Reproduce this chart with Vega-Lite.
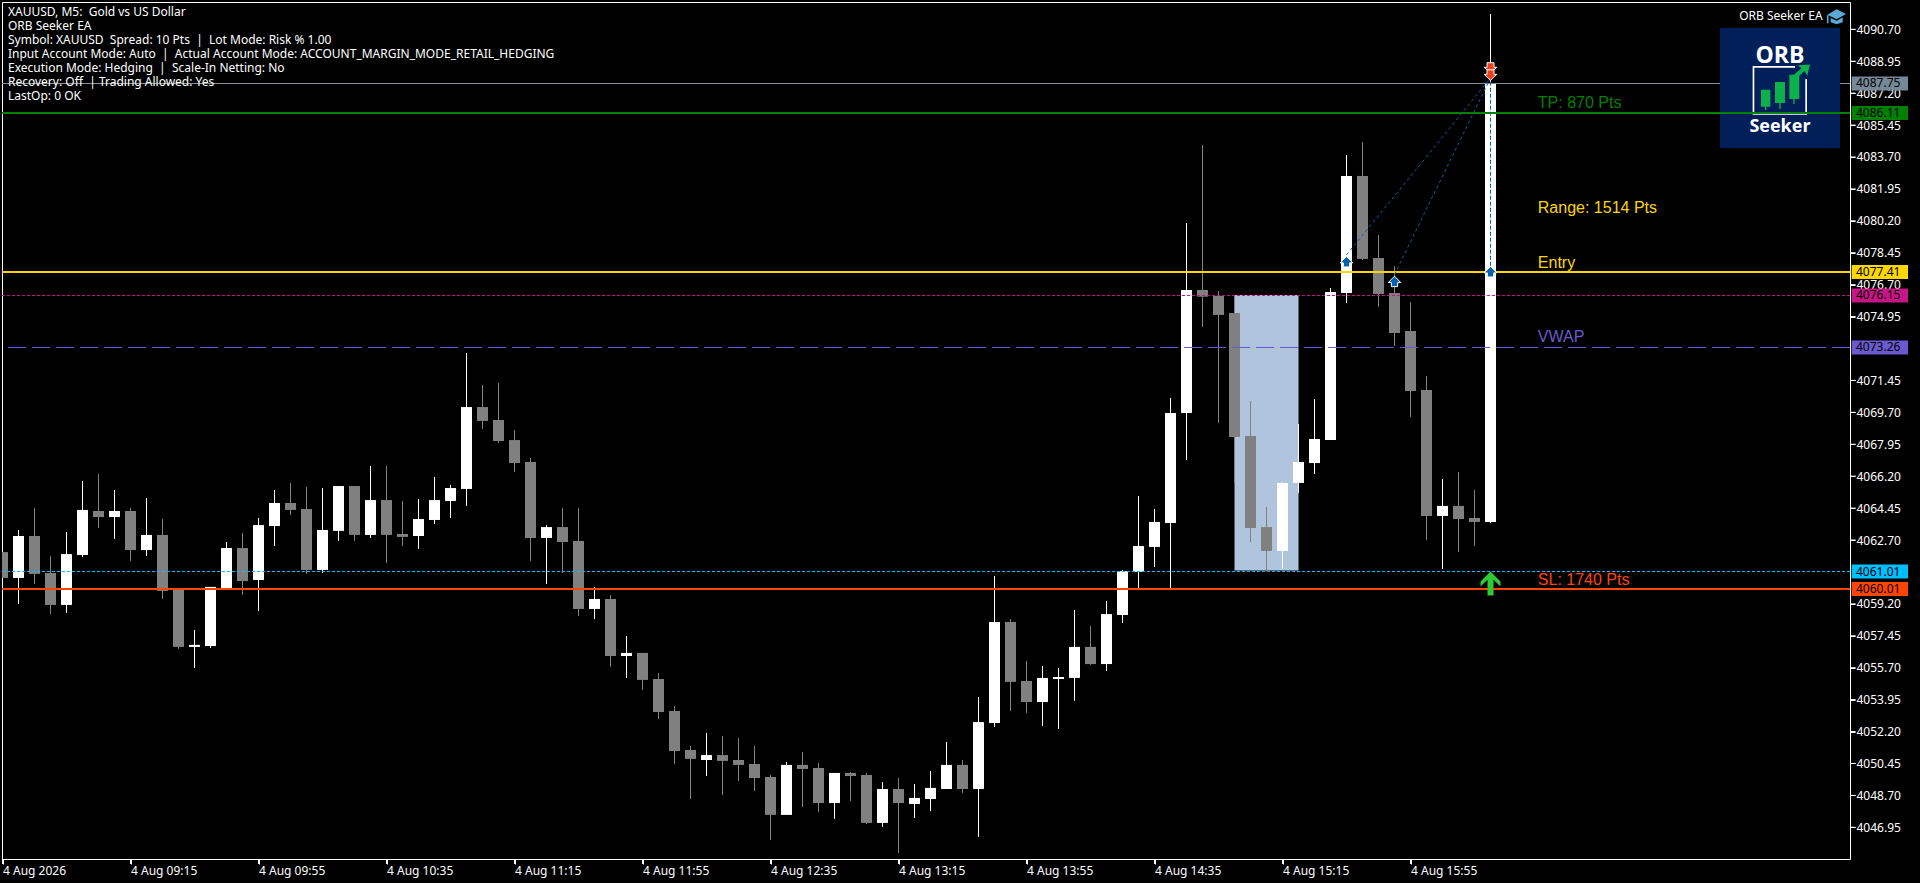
{"$schema":"https://vega.github.io/schema/vega-lite/v6.json","width":1848,"height":857,"autosize":{"type":"none"},"padding":{"left":2,"top":2,"right":70,"bottom":24},"background":"#000000","config":{"view":{"stroke":"#ffffff","strokeWidth":1},"axis":{"grid":false,"domain":false,"ticks":true,"tickColor":"#ffffff","tickOpacity":1,"tickSize":5,"tickWidth":1,"labelColor":"#ffffff","labelFont":"Noto Sans","labelFontSize":12,"labelPadding":1,"labelOverlap":false,"labelBound":false,"labelFlush":false}},
"datasets":{
"yticks":[{"p":4090.7},{"p":4088.95},{"p":4087.2},{"p":4085.45},{"p":4083.7},{"p":4081.95},{"p":4080.2},{"p":4078.45},{"p":4076.7},{"p":4074.95},{"p":4071.45},{"p":4069.7},{"p":4067.95},{"p":4066.2},{"p":4064.45},{"p":4062.7},{"p":4059.2},{"p":4057.45},{"p":4055.7},{"p":4053.95},{"p":4052.2},{"p":4050.45},{"p":4048.7},{"p":4046.95}],
"xticks":[{"t":"2026-08-04T08:35:00"},{"t":"2026-08-04T09:15:00"},{"t":"2026-08-04T09:55:00"},{"t":"2026-08-04T10:35:00"},{"t":"2026-08-04T11:15:00"},{"t":"2026-08-04T11:55:00"},{"t":"2026-08-04T12:35:00"},{"t":"2026-08-04T13:15:00"},{"t":"2026-08-04T13:55:00"},{"t":"2026-08-04T14:35:00"},{"t":"2026-08-04T15:15:00"},{"t":"2026-08-04T15:55:00"}],
"candles":[
{"t":"2026-08-04T08:35:00","o":4062.04,"h":4062.04,"l":4060.62,"c":4060.62},
{"t":"2026-08-04T08:40:00","o":4060.62,"h":4063.25,"l":4059.19,"c":4062.92},
{"t":"2026-08-04T08:45:00","o":4062.92,"h":4064.46,"l":4060.29,"c":4060.84},
{"t":"2026-08-04T08:50:00","o":4060.89,"h":4061.82,"l":4058.64,"c":4059.14},
{"t":"2026-08-04T08:55:00","o":4059.14,"h":4063.14,"l":4058.70,"c":4061.93},
{"t":"2026-08-04T09:00:00","o":4061.88,"h":4065.94,"l":4061.77,"c":4064.35},
{"t":"2026-08-04T09:05:00","o":4064.29,"h":4066.32,"l":4063.36,"c":4063.96},
{"t":"2026-08-04T09:10:00","o":4063.96,"h":4065.44,"l":4062.76,"c":4064.29},
{"t":"2026-08-04T09:15:00","o":4064.29,"h":4064.46,"l":4061.55,"c":4062.15},
{"t":"2026-08-04T09:20:00","o":4062.15,"h":4065.00,"l":4061.82,"c":4062.98},
{"t":"2026-08-04T09:25:00","o":4062.98,"h":4063.85,"l":4059.47,"c":4059.91},
{"t":"2026-08-04T09:30:00","o":4060.02,"h":4060.02,"l":4056.73,"c":4056.84},
{"t":"2026-08-04T09:35:00","o":4056.84,"h":4057.77,"l":4055.68,"c":4056.95},
{"t":"2026-08-04T09:40:00","o":4056.89,"h":4060.13,"l":4056.78,"c":4060.13},
{"t":"2026-08-04T09:45:00","o":4060.02,"h":4062.59,"l":4060.02,"c":4062.26},
{"t":"2026-08-04T09:50:00","o":4062.26,"h":4063.09,"l":4059.69,"c":4060.45},
{"t":"2026-08-04T09:55:00","o":4060.51,"h":4063.91,"l":4058.81,"c":4063.52},
{"t":"2026-08-04T10:00:00","o":4063.47,"h":4065.44,"l":4062.37,"c":4064.73},
{"t":"2026-08-04T10:05:00","o":4064.73,"h":4065.83,"l":4064.07,"c":4064.35},
{"t":"2026-08-04T10:10:00","o":4064.40,"h":4065.61,"l":4060.84,"c":4061.06},
{"t":"2026-08-04T10:15:00","o":4061.06,"h":4065.55,"l":4060.89,"c":4063.25},
{"t":"2026-08-04T10:20:00","o":4063.20,"h":4065.66,"l":4062.65,"c":4065.66},
{"t":"2026-08-04T10:25:00","o":4065.66,"h":4065.66,"l":4062.65,"c":4062.98},
{"t":"2026-08-04T10:30:00","o":4062.98,"h":4066.76,"l":4062.81,"c":4064.89},
{"t":"2026-08-04T10:35:00","o":4064.89,"h":4066.76,"l":4061.44,"c":4062.98},
{"t":"2026-08-04T10:40:00","o":4063.03,"h":4064.84,"l":4062.37,"c":4062.87},
{"t":"2026-08-04T10:45:00","o":4062.92,"h":4064.95,"l":4062.21,"c":4063.85},
{"t":"2026-08-04T10:50:00","o":4063.80,"h":4066.16,"l":4063.58,"c":4064.89},
{"t":"2026-08-04T10:55:00","o":4064.84,"h":4065.72,"l":4063.91,"c":4065.55},
{"t":"2026-08-04T11:00:00","o":4065.50,"h":4072.95,"l":4064.57,"c":4069.99},
{"t":"2026-08-04T11:05:00","o":4069.99,"h":4071.20,"l":4068.79,"c":4069.23},
{"t":"2026-08-04T11:10:00","o":4069.28,"h":4071.31,"l":4068.02,"c":4068.13},
{"t":"2026-08-04T11:15:00","o":4068.18,"h":4068.73,"l":4066.43,"c":4066.92},
{"t":"2026-08-04T11:20:00","o":4066.98,"h":4067.20,"l":4061.55,"c":4062.81},
{"t":"2026-08-04T11:25:00","o":4062.81,"h":4063.52,"l":4060.29,"c":4063.41},
{"t":"2026-08-04T11:30:00","o":4063.41,"h":4064.46,"l":4060.89,"c":4062.59},
{"t":"2026-08-04T11:35:00","o":4062.65,"h":4064.46,"l":4058.54,"c":4058.92},
{"t":"2026-08-04T11:40:00","o":4058.92,"h":4060.13,"l":4058.37,"c":4059.47},
{"t":"2026-08-04T11:45:00","o":4059.47,"h":4059.69,"l":4055.74,"c":4056.34},
{"t":"2026-08-04T11:50:00","o":4056.34,"h":4057.44,"l":4055.14,"c":4056.51},
{"t":"2026-08-04T11:55:00","o":4056.51,"h":4056.51,"l":4054.48,"c":4055.03},
{"t":"2026-08-04T12:00:00","o":4055.08,"h":4055.41,"l":4052.89,"c":4053.27},
{"t":"2026-08-04T12:05:00","o":4053.33,"h":4053.60,"l":4050.42,"c":4051.13},
{"t":"2026-08-04T12:10:00","o":4051.19,"h":4051.41,"l":4048.50,"c":4050.70},
{"t":"2026-08-04T12:15:00","o":4050.64,"h":4052.12,"l":4049.76,"c":4050.91},
{"t":"2026-08-04T12:20:00","o":4050.91,"h":4051.96,"l":4048.72,"c":4050.59},
{"t":"2026-08-04T12:25:00","o":4050.64,"h":4051.85,"l":4049.49,"c":4050.37},
{"t":"2026-08-04T12:30:00","o":4050.42,"h":4051.41,"l":4048.94,"c":4049.65},
{"t":"2026-08-04T12:35:00","o":4049.71,"h":4049.82,"l":4046.25,"c":4047.63},
{"t":"2026-08-04T12:40:00","o":4047.63,"h":4050.53,"l":4047.63,"c":4050.37},
{"t":"2026-08-04T12:45:00","o":4050.37,"h":4051.08,"l":4048.06,"c":4050.15},
{"t":"2026-08-04T12:50:00","o":4050.20,"h":4050.48,"l":4047.79,"c":4048.28},
{"t":"2026-08-04T12:55:00","o":4048.28,"h":4049.93,"l":4047.41,"c":4049.93},
{"t":"2026-08-04T13:00:00","o":4049.93,"h":4049.98,"l":4048.39,"c":4049.76},
{"t":"2026-08-04T13:05:00","o":4049.82,"h":4049.93,"l":4047.13,"c":4047.19},
{"t":"2026-08-04T13:10:00","o":4047.19,"h":4049.43,"l":4046.97,"c":4049.05},
{"t":"2026-08-04T13:15:00","o":4049.05,"h":4049.65,"l":4045.54,"c":4048.28},
{"t":"2026-08-04T13:20:00","o":4048.23,"h":4049.32,"l":4047.46,"c":4048.56},
{"t":"2026-08-04T13:25:00","o":4048.50,"h":4050.04,"l":4047.84,"c":4049.11},
{"t":"2026-08-04T13:30:00","o":4049.05,"h":4051.63,"l":4049.05,"c":4050.37},
{"t":"2026-08-04T13:35:00","o":4050.37,"h":4050.64,"l":4048.83,"c":4049.05},
{"t":"2026-08-04T13:40:00","o":4049.05,"h":4054.09,"l":4046.42,"c":4052.72},
{"t":"2026-08-04T13:45:00","o":4052.67,"h":4060.73,"l":4052.45,"c":4058.21},
{"t":"2026-08-04T13:50:00","o":4058.21,"h":4058.37,"l":4053.33,"c":4054.92},
{"t":"2026-08-04T13:55:00","o":4054.97,"h":4056.07,"l":4053.22,"c":4053.82},
{"t":"2026-08-04T14:00:00","o":4053.82,"h":4055.79,"l":4052.50,"c":4055.14},
{"t":"2026-08-04T14:05:00","o":4055.08,"h":4055.68,"l":4052.34,"c":4055.19},
{"t":"2026-08-04T14:10:00","o":4055.14,"h":4058.86,"l":4053.88,"c":4056.84},
{"t":"2026-08-04T14:15:00","o":4056.84,"h":4057.99,"l":4055.85,"c":4055.90},
{"t":"2026-08-04T14:20:00","o":4055.90,"h":4059.36,"l":4055.52,"c":4058.64},
{"t":"2026-08-04T14:25:00","o":4058.59,"h":4061.06,"l":4058.15,"c":4061.00},
{"t":"2026-08-04T14:30:00","o":4060.95,"h":4065.11,"l":4060.07,"c":4062.37},
{"t":"2026-08-04T14:35:00","o":4062.32,"h":4064.40,"l":4061.22,"c":4063.69},
{"t":"2026-08-04T14:40:00","o":4063.63,"h":4070.49,"l":4060.07,"c":4069.66},
{"t":"2026-08-04T14:45:00","o":4069.66,"h":4080.08,"l":4067.09,"c":4076.41},
{"t":"2026-08-04T14:50:00","o":4076.41,"h":4084.36,"l":4074.38,"c":4076.04},
{"t":"2026-08-04T14:55:00","o":4076.08,"h":4076.35,"l":4069.12,"c":4075.04},
{"t":"2026-08-04T15:00:00","o":4075.15,"h":4076.13,"l":4065.83,"c":4068.35},
{"t":"2026-08-04T15:05:00","o":4068.40,"h":4070.32,"l":4062.59,"c":4063.36},
{"t":"2026-08-04T15:10:00","o":4063.41,"h":4064.51,"l":4061.00,"c":4062.10},
{"t":"2026-08-04T15:15:00","o":4062.10,"h":4065.88,"l":4061.11,"c":4065.83},
{"t":"2026-08-04T15:20:00","o":4065.83,"h":4069.06,"l":4065.28,"c":4066.98},
{"t":"2026-08-04T15:25:00","o":4066.92,"h":4070.43,"l":4066.32,"c":4068.24},
{"t":"2026-08-04T15:30:00","o":4068.18,"h":4076.52,"l":4068.18,"c":4076.30},
{"t":"2026-08-04T15:35:00","o":4076.24,"h":4083.81,"l":4075.69,"c":4082.66},
{"t":"2026-08-04T15:40:00","o":4082.66,"h":4084.52,"l":4078.05,"c":4078.11},
{"t":"2026-08-04T15:45:00","o":4078.16,"h":4079.42,"l":4075.48,"c":4076.19},
{"t":"2026-08-04T15:50:00","o":4076.24,"h":4077.72,"l":4073.34,"c":4074.05},
{"t":"2026-08-04T15:55:00","o":4074.16,"h":4075.75,"l":4069.44,"c":4070.87},
{"t":"2026-08-04T16:00:00","o":4070.93,"h":4071.69,"l":4062.70,"c":4064.02},
{"t":"2026-08-04T16:05:00","o":4064.02,"h":4066.05,"l":4061.11,"c":4064.57},
{"t":"2026-08-04T16:10:00","o":4064.57,"h":4066.43,"l":4062.04,"c":4063.85},
{"t":"2026-08-04T16:15:00","o":4063.91,"h":4065.44,"l":4062.37,"c":4063.69},
{"t":"2026-08-04T16:20:00","o":4063.69,"h":4091.54,"l":4063.63,"c":4087.74}
],
"levels":[
{"kind":"Last","level":4087.729,"label":"4087.75"},
{"kind":"TP","level":4086.111,"label":"4086.11"},
{"kind":"Entry","level":4077.394,"label":"4077.41"},
{"kind":"Trail","level":4076.106,"label":"4076.15"},
{"kind":"VWAP","level":4073.255,"label":"4073.26"},
{"kind":"Box","level":4060.974,"label":"4061.01"},
{"kind":"SL","level":4060.015,"label":"4060.01"}
],
"notes":[
{"t":"2026-08-04T16:34:47","p":4086.66,"kind":"TP","label":"TP: 870 Pts"},
{"t":"2026-08-04T16:34:47","p":4080.90,"kind":"Range","label":"Range: 1514 Pts"},
{"t":"2026-08-04T16:34:47","p":4077.90,"kind":"Entry","label":"Entry"},
{"t":"2026-08-04T16:34:47","p":4073.83,"kind":"VWAP","label":"VWAP"},
{"t":"2026-08-04T16:34:47","p":4060.50,"kind":"SL","label":"SL: 1740 Pts"}
],
"info":[
{"t":"2026-08-04T08:36:43","p":4091.665,"label":"XAUUSD, M5:\u00a0 Gold vs US Dollar"},
{"t":"2026-08-04T08:36:43","p":4090.897,"label":"ORB Seeker EA"},
{"t":"2026-08-04T08:36:43","p":4090.13,"label":"Symbol: XAUUSD\u00a0 Spread: 10 Pts\u00a0 |\u00a0 Lot Mode: Risk % 1.00"},
{"t":"2026-08-04T08:36:43","p":4089.36,"label":"Input Account Mode: Auto\u00a0 |\u00a0 Actual Account Mode: ACCOUNT_MARGIN_MODE_RETAIL_HEDGING"},
{"t":"2026-08-04T08:36:43","p":4088.59,"label":"Execution Mode: Hedging\u00a0 |\u00a0 Scale-In Netting: No"},
{"t":"2026-08-04T08:36:43","p":4087.83,"label":"Recovery: Off\u00a0 | Trading Allowed: Yes"},
{"t":"2026-08-04T08:36:43","p":4087.06,"label":"LastOp: 0 OK"}
],
"trades":[
{"trade":"a","t":"2026-08-04T15:35:00","p":4078.33},
{"trade":"a","t":"2026-08-04T16:20:00","p":4088.03},
{"trade":"b","t":"2026-08-04T15:50:00","p":4077.26},
{"trade":"b","t":"2026-08-04T16:20:00","p":4088.03}
],
"close":[
{"trade":"c","t":"2026-08-04T16:20:00","p":4077.41},
{"trade":"c","t":"2026-08-04T16:20:00","p":4088.03}
]
},
"layer":[
{"data":{"values":[{"t1":"2026-08-04T15:00:00","t2":"2026-08-04T15:20:00","p1":4076.13,"p2":4061.03}]},"mark":{"type":"rect","color":"#B0C4DE"},"encoding":{
"x":{"field":"t1","type":"temporal","scale":{"domain":["2026-08-04T08:34:50.625","2026-08-04T18:12:20.625"],"nice":false,"padding":0},"axis":{"values":["2026-08-04T08:35:00","2026-08-04T09:15:00","2026-08-04T09:55:00","2026-08-04T10:35:00","2026-08-04T11:15:00","2026-08-04T11:55:00","2026-08-04T12:35:00","2026-08-04T13:15:00","2026-08-04T13:55:00","2026-08-04T14:35:00","2026-08-04T15:15:00","2026-08-04T15:55:00"],"tickCount":30,"ticks":true,"tickColor":"#ffffff","tickSize":5,"tickWidth":1,"format":"%-d %b %H:%M","labelExpr":"datum.label == '4 Aug 08:35' ? '4 Aug 2026' : datum.label","labelAlign":"left","title":null}},
"x2":{"field":"t2"},
"y":{"field":"p1","type":"quantitative","scale":{"domain":[4045.212,4092.197],"nice":false,"zero":false},"axis":{"orient":"right","values":[4090.7,4088.95,4087.2,4085.45,4083.7,4081.95,4080.2,4078.45,4076.7,4074.95,4071.45,4069.7,4067.95,4066.2,4064.45,4062.7,4059.2,4057.45,4055.7,4053.95,4052.2,4050.45,4048.7,4046.95],"tickCount":30,"ticks":true,"tickColor":"#ffffff","tickSize":5,"tickWidth":1,"format":".2f","title":null}},
"y2":{"field":"p2"}}},
{"data":{"name":"yticks"},"mark":{"type":"rule","strokeWidth":1,"color":"#ffffff"},"encoding":{
"x":{"datum":{"year":2026,"month":8,"date":4,"hours":18,"minutes":12,"seconds":20},"type":"temporal","scale":{"domain":["2026-08-04T08:34:50.625","2026-08-04T18:12:20.625"],"nice":false,"padding":0}},
"x2":{"datum":{"year":2026,"month":8,"date":4,"hours":18,"minutes":14,"seconds":7}},
"y":{"field":"p","type":"quantitative","scale":{"domain":[4045.212,4092.197],"nice":false,"zero":false}}}},
{"data":{"name":"xticks"},"mark":{"type":"rule","strokeWidth":1,"color":"#ffffff"},"encoding":{
"x":{"field":"t","type":"temporal","scale":{"domain":["2026-08-04T08:34:50.625","2026-08-04T18:12:20.625"],"nice":false,"padding":0}},
"y":{"datum":4045.212,"type":"quantitative","scale":{"domain":[4045.212,4092.197],"nice":false,"zero":false}},
"y2":{"datum":4044.94}}},
{"data":{"name":"candles"},"mark":{"type":"rule","strokeWidth":1,"clip":true},"encoding":{
"x":{"field":"t","type":"temporal","scale":{"domain":["2026-08-04T08:34:50.625","2026-08-04T18:12:20.625"],"nice":false,"padding":0}},
"y":{"field":"h","type":"quantitative","scale":{"domain":[4045.212,4092.197],"nice":false,"zero":false}},
"y2":{"field":"l"},
"color":{"condition":{"test":"datum.c >= datum.o","value":"#ffffff"},"value":"#808080"}}},
{"data":{"name":"candles"},"mark":{"type":"bar","width":11,"clip":true},"encoding":{
"x":{"field":"t","type":"temporal","scale":{"domain":["2026-08-04T08:34:50.625","2026-08-04T18:12:20.625"],"nice":false,"padding":0}},
"y":{"field":"o","type":"quantitative","scale":{"domain":[4045.212,4092.197],"nice":false,"zero":false}},
"y2":{"field":"c"},
"color":{"condition":{"test":"datum.c >= datum.o","value":"#ffffff"},"value":"#808080"}}},
{"data":{"name":"levels"},"transform":[{"filter":"datum.kind == 'Last'"}],"mark":{"type":"rule","strokeWidth":1,"color":"#8a929a"},"encoding":{
"y":{"field":"level","type":"quantitative","scale":{"domain":[4045.212,4092.197],"nice":false,"zero":false}}}},
{"data":{"values":[{"t":"2026-08-04T17:50:28","p":4087.48}]},"mark":{"type":"point","shape":"square","size":14400,"filled":true,"opacity":1,"color":"#01205A"},"encoding":{
"x":{"field":"t","type":"temporal","scale":{"domain":["2026-08-04T08:34:50.625","2026-08-04T18:12:20.625"],"nice":false,"padding":0}},
"y":{"field":"p","type":"quantitative","scale":{"domain":[4045.212,4092.197],"nice":false,"zero":false}}}},
{"data":{"values":[{"t":"2026-08-04T17:50:28","p":4087.48}]},"mark":{"type":"point","shape":"M-.456 -.367 H.25 V-.339 H-.428 V.417 H.422 V-.15 H.45 V.444 H-.456 Z","size":14400,"filled":true,"opacity":1,"color":"#ffffff"},"encoding":{
"x":{"field":"t","type":"temporal","scale":{"domain":["2026-08-04T08:34:50.625","2026-08-04T18:12:20.625"],"nice":false,"padding":0}},
"y":{"field":"p","type":"quantitative","scale":{"domain":[4045.212,4092.197],"nice":false,"zero":false}}}},
{"data":{"values":[{"t":"2026-08-04T17:50:28","p":4087.48}]},"mark":{"type":"point","shape":"M-.317 .028 H-.161 V.311 H-.228 V.367 H-.25 V.311 H-.317 Z M-.083 -.1 H.083 V.25 H.011 V.35 H-.011 V.25 H-.083 Z M.156 -.222 H.233 L.356 -.328 L.3 -.378 L.5 -.394 L.456 -.211 L.406 -.283 L.322 -.2 V.183 H.244 V.267 H.222 V.183 H.156 Z","size":14400,"filled":true,"opacity":1,"color":"#0DB14B"},"encoding":{
"x":{"field":"t","type":"temporal","scale":{"domain":["2026-08-04T08:34:50.625","2026-08-04T18:12:20.625"],"nice":false,"padding":0}},
"y":{"field":"p","type":"quantitative","scale":{"domain":[4045.212,4092.197],"nice":false,"zero":false}}}},
{"data":{"values":[{"t":"2026-08-04T17:50:28","p":4089.22,"label":"ORB"}]},"mark":{"type":"text","font":"Open Sans","fontWeight":700,"fontSize":23,"color":"#ffffff","align":"center","baseline":"middle"},"encoding":{
"x":{"field":"t","type":"temporal","scale":{"domain":["2026-08-04T08:34:50.625","2026-08-04T18:12:20.625"],"nice":false,"padding":0}},
"y":{"field":"p","type":"quantitative","scale":{"domain":[4045.212,4092.197],"nice":false,"zero":false}},
"text":{"field":"label"}}},
{"data":{"values":[{"t":"2026-08-04T17:50:28","p":4085.33,"label":"Seeker"}]},"mark":{"type":"text","font":"Open Sans","fontWeight":700,"fontSize":18,"color":"#ffffff","align":"center","baseline":"middle"},"encoding":{
"x":{"field":"t","type":"temporal","scale":{"domain":["2026-08-04T08:34:50.625","2026-08-04T18:12:20.625"],"nice":false,"padding":0}},
"y":{"field":"p","type":"quantitative","scale":{"domain":[4045.212,4092.197],"nice":false,"zero":false}},
"text":{"field":"label"}}},
{"data":{"values":[{"t":"2026-08-04T18:03:49","p":4091.41,"label":"ORB Seeker EA"}]},"mark":{"type":"text","font":"Noto Sans","fontSize":12,"color":"#ffffff","align":"right","baseline":"middle"},"encoding":{
"x":{"field":"t","type":"temporal","scale":{"domain":["2026-08-04T08:34:50.625","2026-08-04T18:12:20.625"],"nice":false,"padding":0}},
"y":{"field":"p","type":"quantitative","scale":{"domain":[4045.212,4092.197],"nice":false,"zero":false}},
"text":{"field":"label"}}},
{"data":{"values":[{"t":"2026-08-04T18:08:11","p":4091.41}]},"mark":{"type":"point","shape":"M-.93 -.17 L0 -.7 L.93 -.23 L0 .3 Z M-.6 .17 L0 .45 L.6 .1 V.6 L0 .8 L-.6 .6 Z M-.98 -.1 H-.82 V.7 H-.98 Z","size":400,"filled":true,"opacity":1,"color":"#5AA9D6"},"encoding":{
"x":{"field":"t","type":"temporal","scale":{"domain":["2026-08-04T08:34:50.625","2026-08-04T18:12:20.625"],"nice":false,"padding":0}},
"y":{"field":"p","type":"quantitative","scale":{"domain":[4045.212,4092.197],"nice":false,"zero":false}}}},
{"data":{"name":"levels"},"transform":[{"filter":"datum.kind == 'TP' || datum.kind == 'Entry' || datum.kind == 'SL'"}],"mark":{"type":"rule","strokeWidth":2},"encoding":{
"y":{"field":"level","type":"quantitative","scale":{"domain":[4045.212,4092.197],"nice":false,"zero":false}},
"color":{"field":"kind","type":"nominal","legend":null,"scale":{"domain":["Last","TP","Range","Entry","Trail","VWAP","Box","SL"],"range":["#778899","#008000","#FFD700","#FFD700","#C71585","#6A5ACD","#00BFFF","#FF4500"]}}}},
{"data":{"name":"levels"},"transform":[{"filter":"datum.kind == 'Trail' || datum.kind == 'Box'"}],"mark":{"type":"rule","strokeWidth":1,"strokeDash":[3,2]},"encoding":{
"y":{"field":"level","type":"quantitative","scale":{"domain":[4045.212,4092.197],"nice":false,"zero":false}},
"color":{"field":"kind","type":"nominal","legend":null,"scale":{"domain":["Last","TP","Range","Entry","Trail","VWAP","Box","SL"],"range":["#778899","#008000","#FFD700","#FFD700","#C71585","#6A5ACD","#00BFFF","#FF4500"]}}}},
{"data":{"name":"levels"},"transform":[{"filter":"datum.kind == 'VWAP'"}],"mark":{"type":"rule","strokeWidth":1,"strokeDash":[18,6]},"encoding":{
"y":{"field":"level","type":"quantitative","scale":{"domain":[4045.212,4092.197],"nice":false,"zero":false}},
"color":{"field":"kind","type":"nominal","legend":null,"scale":{"domain":["Last","TP","Range","Entry","Trail","VWAP","Box","SL"],"range":["#778899","#008000","#FFD700","#FFD700","#C71585","#6A5ACD","#00BFFF","#FF4500"]}}}},
{"data":{"name":"trades"},"mark":{"type":"line","strokeWidth":1,"strokeDash":[3,3],"color":"#0563AE"},"encoding":{
"x":{"field":"t","type":"temporal","scale":{"domain":["2026-08-04T08:34:50.625","2026-08-04T18:12:20.625"],"nice":false,"padding":0}},
"y":{"field":"p","type":"quantitative","scale":{"domain":[4045.212,4092.197],"nice":false,"zero":false}},
"detail":{"field":"trade"}}},
{"data":{"name":"close"},"mark":{"type":"line","strokeWidth":1,"strokeDash":[4,2],"color":"#0563AE"},"encoding":{
"x":{"field":"t","type":"temporal","scale":{"domain":["2026-08-04T08:34:50.625","2026-08-04T18:12:20.625"],"nice":false,"padding":0}},
"y":{"field":"p","type":"quantitative","scale":{"domain":[4045.212,4092.197],"nice":false,"zero":false}},
"detail":{"field":"trade"}}},
{"data":{"values":[{"t":"2026-08-04T15:35:00","p":4077.96},{"t":"2026-08-04T15:50:00","p":4076.88},{"t":"2026-08-04T16:20:00","p":4077.41}]},"mark":{"type":"point","shape":"M0 -.75 L.9 .17 H.45 V.75 H-.45 V.17 H-.9 Z","size":196,"filled":true,"opacity":1,"fill":"#0563AE","stroke":"#ffffff","strokeWidth":1},"encoding":{
"x":{"field":"t","type":"temporal","scale":{"domain":["2026-08-04T08:34:50.625","2026-08-04T18:12:20.625"],"nice":false,"padding":0}},
"y":{"field":"p","type":"quantitative","scale":{"domain":[4045.212,4092.197],"nice":false,"zero":false}}}},
{"data":{"values":[{"t":"2026-08-04T16:20:00","p":4088.58},{"t":"2026-08-04T16:20:00","p":4088.19}]},"mark":{"type":"point","shape":"M0 .75 L.9 -.1 H.5 V-.75 H-.5 V-.1 H-.9 Z","size":196,"filled":true,"opacity":1,"fill":"#E8401E","stroke":"#ffffff","strokeWidth":1},"encoding":{
"x":{"field":"t","type":"temporal","scale":{"domain":["2026-08-04T08:34:50.625","2026-08-04T18:12:20.625"],"nice":false,"padding":0}},
"y":{"field":"p","type":"quantitative","scale":{"domain":[4045.212,4092.197],"nice":false,"zero":false}}}},
{"data":{"values":[{"t":"2026-08-04T16:20:00","p":4060.31}]},"mark":{"type":"point","shape":"M0 -1 L.83 -.17 V.25 L.25 -.33 V1 H-.25 V-.33 L-.83 .25 V-.17 Z","size":576,"filled":true,"opacity":1,"color":"#2FCB36"},"encoding":{
"x":{"field":"t","type":"temporal","scale":{"domain":["2026-08-04T08:34:50.625","2026-08-04T18:12:20.625"],"nice":false,"padding":0}},
"y":{"field":"p","type":"quantitative","scale":{"domain":[4045.212,4092.197],"nice":false,"zero":false}}}},
{"data":{"name":"notes"},"mark":{"type":"text","font":"Liberation Sans","fontSize":16,"align":"left","baseline":"middle"},"encoding":{
"x":{"field":"t","type":"temporal","scale":{"domain":["2026-08-04T08:34:50.625","2026-08-04T18:12:20.625"],"nice":false,"padding":0}},
"y":{"field":"p","type":"quantitative","scale":{"domain":[4045.212,4092.197],"nice":false,"zero":false}},
"text":{"field":"label"},
"color":{"field":"kind","type":"nominal","legend":null,"scale":{"domain":["Last","TP","Range","Entry","Trail","VWAP","Box","SL"],"range":["#778899","#008000","#FFD700","#FFD700","#C71585","#6A5ACD","#00BFFF","#FF4500"]}}}},
{"data":{"name":"info"},"mark":{"type":"text","font":"Noto Sans","fontSize":12,"color":"#ffffff","align":"left","baseline":"middle"},"encoding":{
"x":{"field":"t","type":"temporal","scale":{"domain":["2026-08-04T08:34:50.625","2026-08-04T18:12:20.625"],"nice":false,"padding":0}},
"y":{"field":"p","type":"quantitative","scale":{"domain":[4045.212,4092.197],"nice":false,"zero":false}},
"text":{"field":"label"}}},
{"data":{"name":"levels"},"mark":{"type":"rect","height":14,"clip":false},"encoding":{
"x":{"datum":{"year":2026,"month":8,"date":4,"hours":18,"minutes":12,"seconds":52},"type":"temporal","scale":{"domain":["2026-08-04T08:34:50.625","2026-08-04T18:12:20.625"],"nice":false,"padding":0}},
"x2":{"datum":{"year":2026,"month":8,"date":4,"hours":18,"minutes":30,"seconds":28}},
"y":{"field":"level","type":"quantitative","scale":{"domain":[4045.212,4092.197],"nice":false,"zero":false}},
"color":{"field":"kind","type":"nominal","legend":null,"scale":{"domain":["Last","TP","Range","Entry","Trail","VWAP","Box","SL"],"range":["#778899","#008000","#FFD700","#FFD700","#C71585","#6A5ACD","#00BFFF","#FF4500"]}}}},
{"data":{"name":"levels"},"mark":{"type":"text","font":"Noto Sans","fontSize":12,"color":"#000000","align":"left","baseline":"middle"},"encoding":{
"x":{"datum":{"year":2026,"month":8,"date":4,"hours":18,"minutes":14,"seconds":13},"type":"temporal","scale":{"domain":["2026-08-04T08:34:50.625","2026-08-04T18:12:20.625"],"nice":false,"padding":0}},
"y":{"field":"level","type":"quantitative","scale":{"domain":[4045.212,4092.197],"nice":false,"zero":false}},
"text":{"field":"label"}}}
]}
